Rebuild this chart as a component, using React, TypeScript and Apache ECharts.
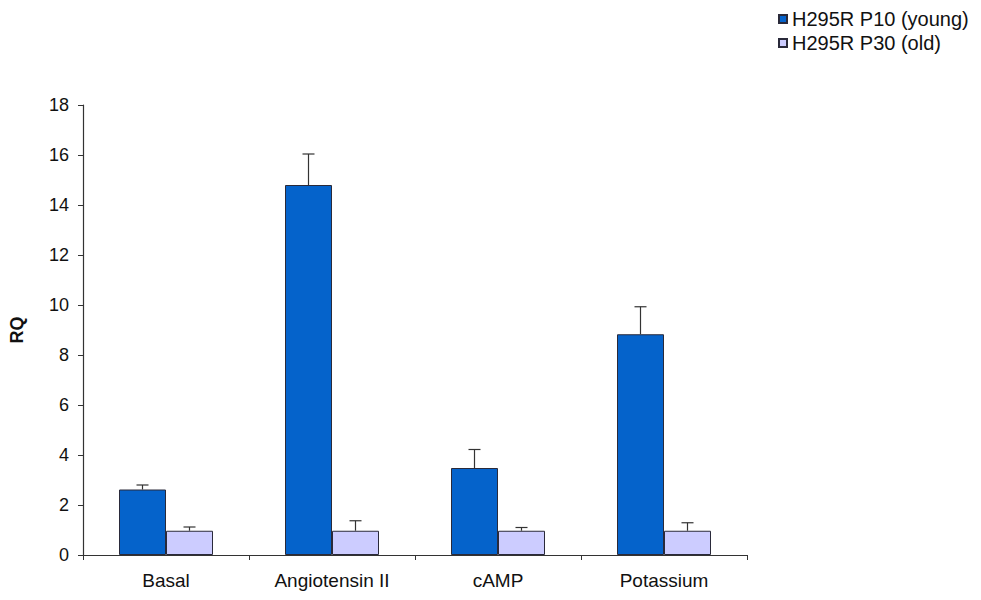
import React, { useEffect, useRef } from "react";
import * as echarts from "echarts";

const categories = ["Basal", "Angiotensin II", "cAMP", "Potassium"];
const youngName = "H295R P10 (young)";
const oldName = "H295R P30 (old)";
const youngValues = [2.62, 14.8, 3.48, 8.83];
const youngErrorTop = [2.8, 16.04, 4.22, 9.93];
const oldValues = [0.97, 0.97, 0.97, 0.97];
const oldErrorTop = [1.12, 1.37, 1.1, 1.29];
const yTicks = { min: 0, max: 18, interval: 2 };

const BAR_W = 47;

function errorSeries(values: number[], tops: number[], offset: number) {
  return {
    type: "custom",
    silent: true,
    z: 5,
    data: values.map((v, i) => [i, v, tops[i]]),
    encode: { x: 0, y: [1, 2] },
    renderItem: (params: any, api: any) => {
      const base = api.coord([api.value(0), api.value(1)]);
      const top = api.coord([api.value(0), api.value(2)]);
      const x = base[0] + offset;
      const cap = 6;
      const style = { stroke: "#333", lineWidth: 1.2 };
      return {
        type: "group",
        children: [
          { type: "line", shape: { x1: x, y1: base[1], x2: x, y2: top[1] }, style },
          { type: "line", shape: { x1: x - cap, y1: top[1], x2: x + cap, y2: top[1] }, style },
        ],
      };
    },
  };
}

export default function App() {
  const ref = useRef<HTMLDivElement>(null);
  useEffect(() => {
    if (!ref.current) return;
    const chart = echarts.init(ref.current, undefined, { renderer: "svg" });
    const font = "Liberation Sans, Arial, sans-serif";
    chart.setOption({
      animation: false,
      backgroundColor: "#ffffff",
      textStyle: { fontFamily: font },
      grid: { left: 83, right: 234, top: 105, bottom: 45, containLabel: false },
      legend: {
        data: [youngName, oldName],
        orient: "vertical",
        left: 776,
        top: 7,
        padding: 2,
        icon: "rect",
        itemWidth: 8,
        itemHeight: 8,
        itemGap: 4,
        textStyle: { fontSize: 20, color: "#111", fontFamily: font },
      },
      xAxis: {
        type: "category",
        data: categories,
        axisLine: { lineStyle: { color: "#333", width: 1.2 } },
        axisTick: { show: true, length: 5, lineStyle: { color: "#333" } },
        axisLabel: { fontSize: 19, color: "#111", margin: 16, fontFamily: font },
        splitLine: { show: false },
      },
      yAxis: {
        type: "value",
        min: yTicks.min,
        max: yTicks.max,
        interval: yTicks.interval,
        name: "RQ",
        nameLocation: "middle",
        nameGap: 57,
        nameRotate: 90,
        nameTextStyle: { fontSize: 18, fontWeight: "bold", color: "#111", fontFamily: font },
        axisLine: { show: true, lineStyle: { color: "#333", width: 1.2 } },
        axisTick: { show: true, length: 5, lineStyle: { color: "#333" } },
        axisLabel: { fontSize: 18, color: "#111", margin: 14, fontFamily: font },
        splitLine: { show: false },
      },
      series: [
        {
          name: youngName,
          type: "bar",
          data: youngValues,
          barWidth: BAR_W,
          barGap: "0%",
          itemStyle: { color: "#0563CB", borderColor: "#2a2a3a", borderWidth: 1 },
        },
        {
          name: oldName,
          type: "bar",
          data: oldValues,
          barWidth: BAR_W,
          barGap: "0%",
          itemStyle: { color: "#CCCCFF", borderColor: "#2a2a3a", borderWidth: 1 },
        },
        errorSeries(youngValues, youngErrorTop, -BAR_W / 2),
        errorSeries(oldValues, oldErrorTop, BAR_W / 2),
      ],
    });
    return () => chart.dispose();
  }, []);
  return (
    <div
      ref={ref}
      style={{ position: "fixed", left: 0, top: 0, width: 981, height: 600 }}
    />
  );
}
